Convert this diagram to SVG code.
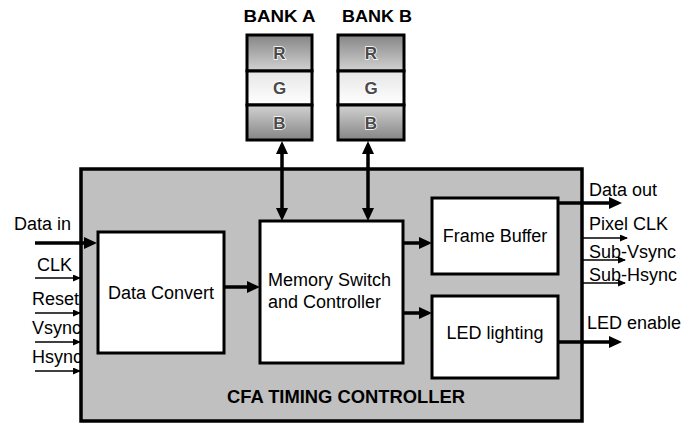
<svg xmlns="http://www.w3.org/2000/svg" width="700" height="425" viewBox="0 0 700 425">
<style>
text{font-family:"Liberation Sans",Arial,sans-serif;fill:#000}
.lbl{font-size:18px}
.bold{font-weight:bold}
.box{fill:#fff;stroke:#000;stroke-width:3}
.thick{stroke:#000;stroke-width:3.5;fill:none;marker-end:url(#ah)}
.thin{stroke:#000;stroke-width:1.3;fill:none;marker-end:url(#as)}
.dbl{stroke:#000;stroke-width:3.5;fill:none;marker-end:url(#ah);marker-start:url(#ah)}
.cell{stroke:#000;stroke-width:3}
.rgb{font-size:17px;font-weight:bold;fill:#4a4a4a;stroke:#fff;stroke-width:1.5;paint-order:stroke;text-anchor:middle}
</style>
<defs>
<marker id="ah" viewBox="0 0 13 12" refX="9" refY="6" markerWidth="13" markerHeight="12" markerUnits="userSpaceOnUse" orient="auto-start-reverse"><path d="M0,0 L13,6 L0,12 z" fill="#000"/></marker>
<marker id="as" viewBox="0 0 8 7" refX="7" refY="3.5" markerWidth="8" markerHeight="7" markerUnits="userSpaceOnUse" orient="auto"><path d="M0,0 L8,3.5 L0,7 z" fill="#000"/></marker>
<linearGradient id="gTop" x1="0" y1="0" x2="0" y2="1"><stop offset="0" stop-color="#858585"/><stop offset="1" stop-color="#d2d2d2"/></linearGradient>
<linearGradient id="gMid" x1="0" y1="0" x2="0" y2="1"><stop offset="0" stop-color="#e6e6e6"/><stop offset="1" stop-color="#ffffff"/></linearGradient>
<linearGradient id="gBot" x1="0" y1="0" x2="0" y2="1"><stop offset="0" stop-color="#d2d2d2"/><stop offset="1" stop-color="#858585"/></linearGradient>
</defs>

<g id="cfa-timing-controller">
<rect x="81" y="169" width="501" height="252" fill="#c0c0c0" stroke="#000" stroke-width="3.5"/>
<text x="227" y="403" class="bold" font-size="18" textLength="238" lengthAdjust="spacingAndGlyphs">CFA TIMING CONTROLLER</text>
</g>

<g id="bank-a">
<text x="279.5" y="22" class="bold" font-size="16" text-anchor="middle" textLength="72" lengthAdjust="spacingAndGlyphs">BANK A</text>
<rect x="247" y="35" width="65" height="36" fill="url(#gTop)" class="cell"/>
<rect x="247" y="71" width="65" height="34" fill="url(#gMid)" class="cell"/>
<rect x="247" y="105" width="65" height="35" fill="url(#gBot)" class="cell"/>
<text x="279.5" y="59" class="rgb">R</text>
<text x="279.5" y="94" class="rgb">G</text>
<text x="279.5" y="129" class="rgb">B</text>
</g>

<g id="bank-b">
<text x="377" y="22" class="bold" font-size="16" text-anchor="middle" textLength="70" lengthAdjust="spacingAndGlyphs">BANK B</text>
<rect x="338" y="35" width="66" height="36" fill="url(#gTop)" class="cell"/>
<rect x="338" y="71" width="66" height="34" fill="url(#gMid)" class="cell"/>
<rect x="338" y="105" width="66" height="35" fill="url(#gBot)" class="cell"/>
<text x="371" y="59" class="rgb">R</text>
<text x="371" y="94" class="rgb">G</text>
<text x="371" y="129" class="rgb">B</text>
</g>

<g id="data-convert">
<rect x="98" y="232" width="126" height="121" class="box"/>
<text x="161" y="299" class="lbl" text-anchor="middle">Data Convert</text>
</g>

<g id="memory-switch">
<rect x="260" y="221" width="143" height="142" class="box"/>
<text x="268" y="286" class="lbl">Memory Switch</text>
<text x="268" y="308" class="lbl">and Controller</text>
</g>

<g id="frame-buffer">
<rect x="432" y="198" width="126" height="76" class="box"/>
<text x="495" y="242" class="lbl" text-anchor="middle">Frame Buffer</text>
</g>

<g id="led-lighting">
<rect x="432" y="296" width="126" height="82" class="box"/>
<text x="495" y="339" class="lbl" text-anchor="middle">LED lighting</text>
</g>

<g id="signal-labels">
<text x="14" y="230" class="lbl">Data in</text>
<text x="37" y="271" class="lbl">CLK</text>
<text x="32" y="305" class="lbl">Reset</text>
<text x="32" y="334" class="lbl">Vsync</text>
<text x="32" y="363" class="lbl">Hsync</text>
<text x="589" y="196" class="lbl">Data out</text>
<text x="589" y="230" class="lbl">Pixel CLK</text>
<text x="589" y="258" class="lbl">Sub-Vsync</text>
<text x="589" y="281" class="lbl">Sub-Hsync</text>
<text x="587" y="329" class="lbl">LED enable</text>
</g>

<g id="connectors">
<path class="thick" d="M35,243 H93"/>
<path class="thin" d="M35,278 H80"/>
<path class="thin" d="M35,313 H80"/>
<path class="thin" d="M35,342 H80"/>
<path class="thin" d="M35,371 H80"/>
<path class="thick" d="M224,287 H256"/>
<path class="thick" d="M403,243 H428"/>
<path class="thick" d="M403,313 H428"/>
<path class="dbl" d="M282,145 V217"/>
<path class="dbl" d="M368,145 V217"/>
<path class="thick" d="M558,203 H618"/>
<path class="thin" d="M582,238 H627"/>
<path class="thin" d="M582,260 H625"/>
<path class="thin" d="M582,283 H625"/>
<path class="thick" d="M558,342 H618"/>
</g>
</svg>
